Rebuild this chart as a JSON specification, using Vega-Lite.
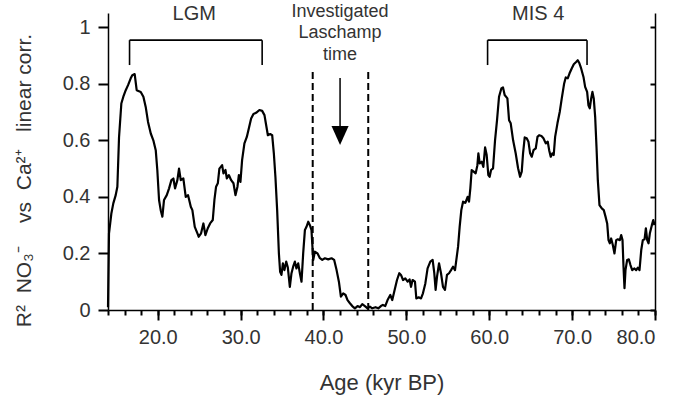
{
  "$schema": "https://vega.github.io/schema/vega-lite/v6.json",
  "width": 547,
  "height": 297,
  "autosize": "none",
  "padding": {"left": 108, "top": 13, "right": 20, "bottom": 90},
  "background": "white",
  "config": {
    "view": {"stroke": null},
    "font": "Liberation Sans",
    "axis": {
      "gridOpacity": 0,
      "domainColor": "black",
      "tickColor": "black",
      "labelColor": "#333333",
      "titleColor": "#333333",
      "domainWidth": 1.5,
      "tickWidth": 2,
      "labelFont": "Liberation Sans",
      "titleFont": "Liberation Sans",
      "titleFontWeight": "normal",
      "labelFontSize": 20
    }
  },
  "datasets": {
    "curve": [
      {"age": 14.0, "r2": 0.01}, {"age": 14.12, "r2": 0.27}, {"age": 14.4, "r2": 0.34}, {"age": 14.64, "r2": 0.377},
      {"age": 14.93, "r2": 0.406}, {"age": 15.13, "r2": 0.436}, {"age": 15.33, "r2": 0.61}, {"age": 15.61, "r2": 0.73},
      {"age": 15.85, "r2": 0.754}, {"age": 16.14, "r2": 0.777}, {"age": 16.42, "r2": 0.795}, {"age": 16.74, "r2": 0.819},
      {"age": 16.93, "r2": 0.83}, {"age": 17.22, "r2": 0.834}, {"age": 17.46, "r2": 0.777}, {"age": 17.95, "r2": 0.771},
      {"age": 18.27, "r2": 0.754}, {"age": 18.55, "r2": 0.718}, {"age": 18.83, "r2": 0.665}, {"age": 19.16, "r2": 0.624},
      {"age": 19.47, "r2": 0.6}, {"age": 19.76, "r2": 0.565}, {"age": 19.95, "r2": 0.495}, {"age": 20.16, "r2": 0.389},
      {"age": 20.36, "r2": 0.353}, {"age": 20.56, "r2": 0.33}, {"age": 20.76, "r2": 0.389}, {"age": 21.09, "r2": 0.406},
      {"age": 21.37, "r2": 0.43}, {"age": 21.65, "r2": 0.459}, {"age": 21.89, "r2": 0.465}, {"age": 22.09, "r2": 0.43},
      {"age": 22.37, "r2": 0.459}, {"age": 22.57, "r2": 0.5}, {"age": 22.78, "r2": 0.459}, {"age": 23.09, "r2": 0.465},
      {"age": 23.38, "r2": 0.4}, {"age": 23.66, "r2": 0.406}, {"age": 23.99, "r2": 0.365}, {"age": 24.18, "r2": 0.353},
      {"age": 24.47, "r2": 0.294}, {"age": 24.79, "r2": 0.271}, {"age": 24.95, "r2": 0.259}, {"age": 25.23, "r2": 0.271},
      {"age": 25.51, "r2": 0.306}, {"age": 25.75, "r2": 0.265}, {"age": 26.04, "r2": 0.289}, {"age": 26.32, "r2": 0.306},
      {"age": 26.64, "r2": 0.318}, {"age": 26.84, "r2": 0.389}, {"age": 27.04, "r2": 0.436}, {"age": 27.25, "r2": 0.448},
      {"age": 27.44, "r2": 0.5}, {"age": 27.77, "r2": 0.512}, {"age": 27.93, "r2": 0.483}, {"age": 28.17, "r2": 0.495},
      {"age": 28.34, "r2": 0.465}, {"age": 28.58, "r2": 0.477}, {"age": 28.86, "r2": 0.459}, {"age": 29.14, "r2": 0.448},
      {"age": 29.38, "r2": 0.406}, {"age": 29.62, "r2": 0.436}, {"age": 29.79, "r2": 0.477}, {"age": 29.98, "r2": 0.453},
      {"age": 30.18, "r2": 0.53}, {"age": 30.46, "r2": 0.589}, {"age": 30.75, "r2": 0.612}, {"age": 30.99, "r2": 0.642},
      {"age": 31.27, "r2": 0.677}, {"age": 31.55, "r2": 0.693}, {"age": 31.87, "r2": 0.697}, {"age": 32.27, "r2": 0.707},
      {"age": 32.6, "r2": 0.704}, {"age": 32.88, "r2": 0.689}, {"age": 33.08, "r2": 0.654}, {"age": 33.29, "r2": 0.618},
      {"age": 33.57, "r2": 0.622}, {"age": 33.81, "r2": 0.618}, {"age": 34.01, "r2": 0.554}, {"age": 34.2, "r2": 0.471},
      {"age": 34.41, "r2": 0.353}, {"age": 34.62, "r2": 0.2}, {"age": 34.77, "r2": 0.135}, {"age": 34.93, "r2": 0.124},
      {"age": 35.1, "r2": 0.165}, {"age": 35.29, "r2": 0.141}, {"age": 35.5, "r2": 0.171}, {"age": 35.7, "r2": 0.15},
      {"age": 35.94, "r2": 0.082}, {"age": 36.14, "r2": 0.13}, {"age": 36.34, "r2": 0.153}, {"age": 36.55, "r2": 0.171},
      {"age": 36.74, "r2": 0.147}, {"age": 36.95, "r2": 0.165}, {"age": 37.15, "r2": 0.13}, {"age": 37.35, "r2": 0.1},
      {"age": 37.55, "r2": 0.2}, {"age": 37.76, "r2": 0.283}, {"age": 37.95, "r2": 0.294}, {"age": 38.16, "r2": 0.312},
      {"age": 38.36, "r2": 0.3}, {"age": 38.55, "r2": 0.283}, {"age": 38.76, "r2": 0.177}, {"age": 38.96, "r2": 0.206},
      {"age": 39.28, "r2": 0.2}, {"age": 39.57, "r2": 0.183}, {"age": 39.85, "r2": 0.177}, {"age": 40.17, "r2": 0.183},
      {"age": 40.57, "r2": 0.179}, {"age": 40.97, "r2": 0.183}, {"age": 41.29, "r2": 0.177}, {"age": 41.58, "r2": 0.141},
      {"age": 41.86, "r2": 0.1}, {"age": 42.1, "r2": 0.047}, {"age": 42.38, "r2": 0.059}, {"age": 42.66, "r2": 0.053},
      {"age": 42.9, "r2": 0.035}, {"age": 43.19, "r2": 0.024}, {"age": 43.47, "r2": 0.014}, {"age": 43.79, "r2": 0.006},
      {"age": 44.11, "r2": 0.014}, {"age": 44.4, "r2": 0.01}, {"age": 44.68, "r2": 0.021}, {"age": 45.0, "r2": 0.014},
      {"age": 45.32, "r2": 0.006}, {"age": 45.6, "r2": 0.012}, {"age": 45.88, "r2": 0.006}, {"age": 46.28, "r2": 0.01},
      {"age": 46.61, "r2": 0.006}, {"age": 46.93, "r2": 0.014}, {"age": 47.17, "r2": 0.018}, {"age": 47.45, "r2": 0.014},
      {"age": 47.73, "r2": 0.035}, {"age": 48.06, "r2": 0.053}, {"age": 48.3, "r2": 0.035}, {"age": 48.54, "r2": 0.065},
      {"age": 48.87, "r2": 0.106}, {"age": 49.15, "r2": 0.13}, {"age": 49.35, "r2": 0.124}, {"age": 49.6, "r2": 0.106},
      {"age": 49.87, "r2": 0.112}, {"age": 50.15, "r2": 0.1}, {"age": 50.39, "r2": 0.108}, {"age": 50.56, "r2": 0.082},
      {"age": 50.75, "r2": 0.106}, {"age": 51.04, "r2": 0.1}, {"age": 51.2, "r2": 0.041}, {"age": 51.48, "r2": 0.045},
      {"age": 51.77, "r2": 0.041}, {"age": 52.0, "r2": 0.059}, {"age": 52.29, "r2": 0.094}, {"age": 52.56, "r2": 0.147},
      {"age": 52.89, "r2": 0.171}, {"age": 53.17, "r2": 0.177}, {"age": 53.37, "r2": 0.13}, {"age": 53.53, "r2": 0.071},
      {"age": 53.7, "r2": 0.118}, {"age": 53.94, "r2": 0.165}, {"age": 54.18, "r2": 0.13}, {"age": 54.42, "r2": 0.082},
      {"age": 54.66, "r2": 0.071}, {"age": 54.9, "r2": 0.124}, {"age": 55.15, "r2": 0.13}, {"age": 55.39, "r2": 0.141},
      {"age": 55.63, "r2": 0.153}, {"age": 55.87, "r2": 0.141}, {"age": 56.03, "r2": 0.177}, {"age": 56.24, "r2": 0.224},
      {"age": 56.43, "r2": 0.294}, {"age": 56.63, "r2": 0.353}, {"age": 56.84, "r2": 0.383}, {"age": 57.12, "r2": 0.379},
      {"age": 57.39, "r2": 0.4}, {"age": 57.56, "r2": 0.383}, {"age": 57.72, "r2": 0.43}, {"age": 57.88, "r2": 0.495},
      {"age": 58.12, "r2": 0.489}, {"age": 58.36, "r2": 0.483}, {"age": 58.57, "r2": 0.512}, {"age": 58.69, "r2": 0.554},
      {"age": 58.85, "r2": 0.518}, {"age": 59.09, "r2": 0.524}, {"age": 59.29, "r2": 0.506}, {"age": 59.5, "r2": 0.575},
      {"age": 59.69, "r2": 0.548}, {"age": 59.89, "r2": 0.477}, {"age": 60.05, "r2": 0.471}, {"age": 60.22, "r2": 0.495},
      {"age": 60.46, "r2": 0.501}, {"age": 60.7, "r2": 0.6}, {"age": 60.94, "r2": 0.671}, {"age": 61.18, "r2": 0.754},
      {"age": 61.46, "r2": 0.783}, {"age": 61.66, "r2": 0.787}, {"age": 61.86, "r2": 0.76}, {"age": 62.19, "r2": 0.748},
      {"age": 62.39, "r2": 0.671}, {"age": 62.59, "r2": 0.66}, {"age": 62.88, "r2": 0.6}, {"age": 63.19, "r2": 0.554},
      {"age": 63.48, "r2": 0.501}, {"age": 63.72, "r2": 0.471}, {"age": 63.92, "r2": 0.489}, {"age": 64.08, "r2": 0.554},
      {"age": 64.28, "r2": 0.61}, {"age": 64.52, "r2": 0.607}, {"age": 64.73, "r2": 0.595}, {"age": 64.93, "r2": 0.554},
      {"age": 65.13, "r2": 0.542}, {"age": 65.34, "r2": 0.565}, {"age": 65.61, "r2": 0.571}, {"age": 65.82, "r2": 0.612},
      {"age": 66.02, "r2": 0.618}, {"age": 66.3, "r2": 0.615}, {"age": 66.54, "r2": 0.607}, {"age": 66.82, "r2": 0.589},
      {"age": 67.06, "r2": 0.595}, {"age": 67.23, "r2": 0.565}, {"age": 67.42, "r2": 0.542}, {"age": 67.62, "r2": 0.554},
      {"age": 67.78, "r2": 0.548}, {"age": 67.95, "r2": 0.612}, {"age": 68.23, "r2": 0.66}, {"age": 68.51, "r2": 0.701},
      {"age": 68.75, "r2": 0.748}, {"age": 69.04, "r2": 0.801}, {"age": 69.23, "r2": 0.822}, {"age": 69.47, "r2": 0.819},
      {"age": 69.68, "r2": 0.836}, {"age": 69.95, "r2": 0.854}, {"age": 70.2, "r2": 0.869}, {"age": 70.48, "r2": 0.877},
      {"age": 70.68, "r2": 0.883}, {"age": 70.88, "r2": 0.872}, {"age": 71.09, "r2": 0.854}, {"age": 71.37, "r2": 0.824},
      {"age": 71.57, "r2": 0.789}, {"age": 71.81, "r2": 0.771}, {"age": 71.97, "r2": 0.724}, {"age": 72.13, "r2": 0.713},
      {"age": 72.3, "r2": 0.748}, {"age": 72.45, "r2": 0.771}, {"age": 72.61, "r2": 0.748}, {"age": 72.78, "r2": 0.683},
      {"age": 72.94, "r2": 0.577}, {"age": 73.1, "r2": 0.459}, {"age": 73.3, "r2": 0.371}, {"age": 73.58, "r2": 0.359},
      {"age": 73.82, "r2": 0.353}, {"age": 74.03, "r2": 0.33}, {"age": 74.23, "r2": 0.306}, {"age": 74.39, "r2": 0.247},
      {"age": 74.55, "r2": 0.236}, {"age": 74.71, "r2": 0.253}, {"age": 74.91, "r2": 0.23}, {"age": 75.11, "r2": 0.2},
      {"age": 75.32, "r2": 0.247}, {"age": 75.51, "r2": 0.25}, {"age": 75.76, "r2": 0.247}, {"age": 75.92, "r2": 0.265},
      {"age": 76.08, "r2": 0.247}, {"age": 76.2, "r2": 0.153}, {"age": 76.32, "r2": 0.077}, {"age": 76.44, "r2": 0.141},
      {"age": 76.64, "r2": 0.177}, {"age": 76.84, "r2": 0.179}, {"age": 77.04, "r2": 0.159}, {"age": 77.25, "r2": 0.141},
      {"age": 77.52, "r2": 0.147}, {"age": 77.73, "r2": 0.141}, {"age": 77.93, "r2": 0.15}, {"age": 78.13, "r2": 0.141},
      {"age": 78.34, "r2": 0.212}, {"age": 78.53, "r2": 0.247}, {"age": 78.74, "r2": 0.25}, {"age": 78.9, "r2": 0.289},
      {"age": 79.06, "r2": 0.247}, {"age": 79.22, "r2": 0.236}, {"age": 79.38, "r2": 0.271}, {"age": 79.62, "r2": 0.3},
      {"age": 79.79, "r2": 0.318}, {"age": 79.95, "r2": 0.3}
    ],
    "dashes": [
      {"age": 38.7, "r2": 0, "r2top": 0.848},
      {"age": 45.4, "r2": 0, "r2top": 0.848}
    ],
    "brackets": [
      {"age": 16.6, "age2": 32.6, "r2": 0.954, "r2b": 0.954},
      {"age": 16.6, "age2": 16.6, "r2": 0.866, "r2b": 0.954},
      {"age": 32.6, "age2": 32.6, "r2": 0.866, "r2b": 0.954},
      {"age": 59.8, "age2": 71.8, "r2": 0.954, "r2b": 0.954},
      {"age": 59.8, "age2": 59.8, "r2": 0.866, "r2b": 0.954},
      {"age": 71.8, "age2": 71.8, "r2": 0.866, "r2b": 0.954}
    ],
    "arrow": [
      {"age": 42.0, "r2": 0.82, "r2end": 0.64}
    ],
    "arrowhead": [
      {"age": 42.0, "r2": 0.617}
    ],
    "labels": [
      {"age": 24.4, "r2": 1.027, "label": "LGM", "size": "big"},
      {"age": 65.9, "r2": 1.027, "label": "MIS 4", "size": "big"},
      {"age": 42.0, "r2": 1.036, "label": "Investigated", "size": "small"},
      {"age": 42.0, "r2": 0.96, "label": "Laschamp", "size": "small"},
      {"age": 42.0, "r2": 0.883, "label": "time", "size": "small"}
    ]
  },
  "resolve": {"axis": {"x": "independent", "y": "independent"}},
  "layer": [
    {
      "data": {"name": "curve"},
      "mark": {"type": "line", "color": "black", "strokeWidth": 2.2, "strokeJoin": "round"},
      "encoding": {
        "x": {
          "field": "age", "type": "quantitative",
          "scale": {"domain": [14, 80], "nice": false, "zero": false},
          "axis": {
            "orient": "bottom",
            "values": [20, 30, 40, 50, 60, 70, 80],
            "format": ".1f",
            "ticks": false,
            "domain": false, "labelPadding": 17, "labelOverlap": false,
            "title": "Age (kyr BP)", "titleFontSize": 22, "titleBaseline": "alphabetic", "titleY": 79
          }
        },
        "y": {
          "field": "r2", "type": "quantitative",
          "scale": {"domain": [0, 1.05], "nice": false, "zero": true},
          "axis": {
            "orient": "left", "values": [0, 0.2, 0.4, 0.6, 0.8, 1], "format": "~g", "ticks": false, "domain": false, "labelPadding": 18,
            "title": "R²\u00a0\u00a0NO₃⁻\u00a0\u00a0\u00a0\u00a0vs\u00a0\u00a0Ca²⁺\u00a0\u00a0\u00a0linear corr.", "titleFontSize": 21, "titleX": -84, "titleY": 167,
            "titleBaseline": "middle", "titleAngle": -90
          }
        }
      }
    },
    {
      "data": {"name": "dashes"},
      "mark": {"type": "rule", "color": "black", "strokeWidth": 2, "strokeDash": [7, 4]},
      "encoding": {
        "x": {
          "field": "age", "type": "quantitative",
          "axis": {
            "orient": "bottom",
            "values": [14, 16, 18, 20, 22, 24, 26, 28, 30, 32, 34, 36, 38, 40, 42, 44, 46, 48, 50, 52, 54, 56, 58, 60, 62, 64, 66, 68, 70, 72, 74, 76, 78, 80],
            "ticks": true, "tickSize": 5, "labels": false, "title": null, "domain": true
          }
        },
        "y": {
          "field": "r2", "type": "quantitative",
          "axis": {
            "orient": "right", "values": [0, 0.2, 0.4, 0.6, 0.8, 1], "ticks": true, "tickSize": -5,
            "labels": false, "title": null, "domain": true
          }
        },
        "y2": {"field": "r2top"}
      }
    },
    {
      "data": {"name": "brackets"},
      "mark": {"type": "rule", "color": "black", "strokeWidth": 1.6},
      "encoding": {
        "x": {
          "field": "age", "type": "quantitative",
          "axis": {
            "orient": "bottom", "values": [20, 30, 40, 50, 60, 70, 80],
            "ticks": true, "tickSize": 10, "labels": false, "title": null, "domain": false
          }
        },
        "x2": {"field": "age2"},
        "y": {
          "field": "r2", "type": "quantitative",
          "axis": {
            "orient": "left", "values": [0, 0.2, 0.4, 0.6, 0.8, 1],
            "ticks": true, "tickSize": 10, "labels": false, "title": null, "domain": true
          }
        },
        "y2": {"field": "r2b"}
      }
    },
    {
      "data": {"name": "arrow"},
      "mark": {"type": "rule", "color": "black", "strokeWidth": 1.5},
      "encoding": {
        "x": {"field": "age", "type": "quantitative", "axis": null},
        "y": {"field": "r2", "type": "quantitative", "axis": null},
        "y2": {"field": "r2end"}
      }
    },
    {
      "data": {"name": "arrowhead"},
      "mark": {"type": "point", "shape": "M-0.9,-1L0.9,-1L0,1Z", "size": 361, "filled": true, "color": "black", "opacity": 1, "strokeWidth": 0},
      "encoding": {
        "x": {"field": "age", "type": "quantitative", "axis": null},
        "y": {"field": "r2", "type": "quantitative", "axis": null}
      }
    },
    {
      "data": {"name": "labels"},
      "mark": {"type": "text", "color": "#333333", "font": "Liberation Sans", "baseline": "alphabetic", "align": "center"},
      "encoding": {
        "x": {"field": "age", "type": "quantitative", "axis": null},
        "y": {"field": "r2", "type": "quantitative", "axis": null},
        "text": {"field": "label"},
        "size": {"field": "size", "type": "nominal", "scale": {"domain": ["big", "small"], "range": [20, 18]}, "legend": null}
      }
    }
  ]
}
